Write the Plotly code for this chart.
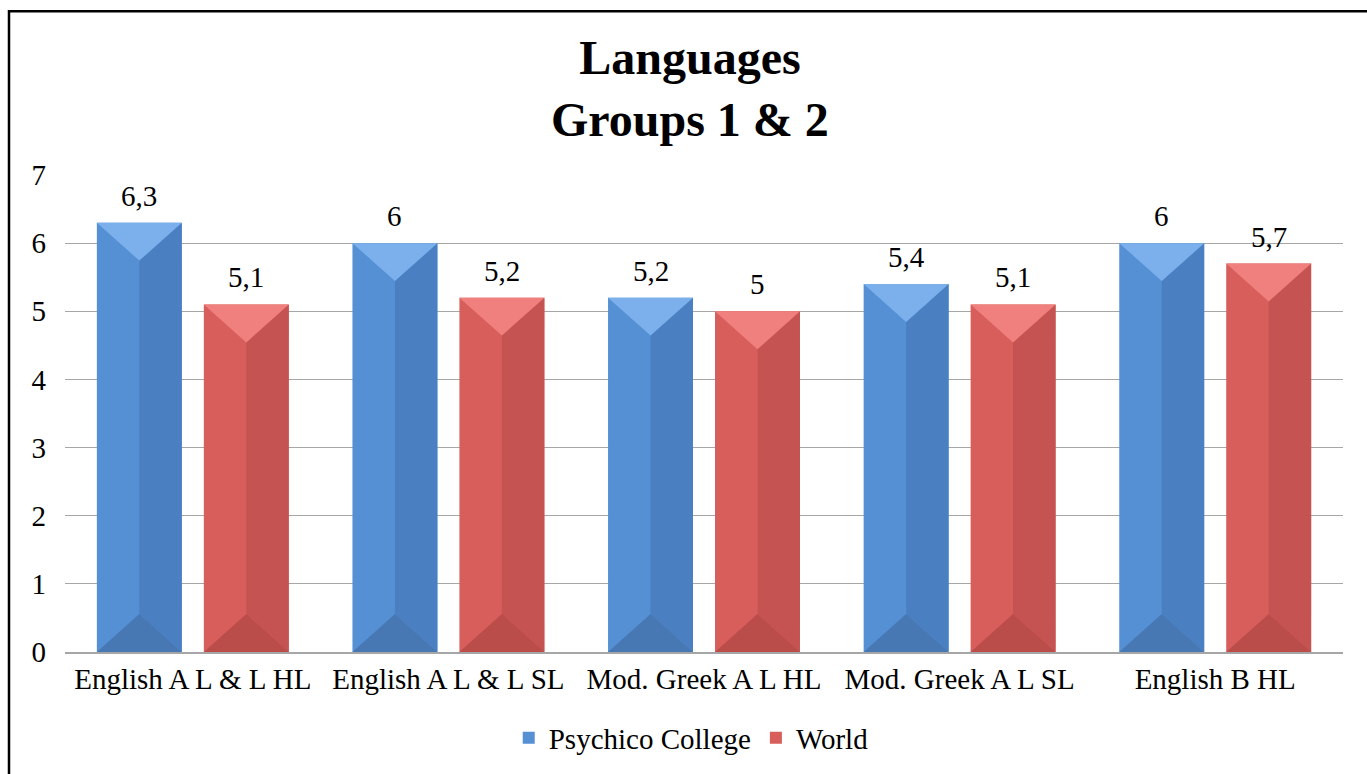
import plotly.graph_objects as go

categories = ["English A L & L HL", "English A L & L SL", "Mod. Greek A L HL",
              "Mod. Greek A L SL", "English B HL"]
psychico = [6.3, 6.0, 5.2, 5.4, 6.0]
world = [5.1, 5.2, 5.0, 5.1, 5.7]
series_names = ["Psychico College", "World"]

FONT = "Liberation Serif"
W, H = 1367, 774
ML, MR, MT, MB = 65, 24, 175, 121
BARGAP, GROUPGAP = 0.163, 0.206
FS = 29

def lab(v):
    s = ("%g" % v)
    return s.replace(".", ",")

fig = go.Figure()
fig.add_trace(go.Bar(name=series_names[0], x=categories, y=psychico,
                     marker=dict(color="#5490D3", line=dict(width=0))))
fig.add_trace(go.Bar(name=series_names[1], x=categories, y=world,
                     marker=dict(color="#D85E5C", line=dict(width=0))))

# bevel decoration and value labels computed from the data and bar geometry
slot = (1 - BARGAP) / 2
bw = slot * (1 - GROUPGAP)
plot_h = H - MT - MB
d = 38 / plot_h * 7  # bevel depth in data units
shapes = []
annotations = []
faces = [
    (psychico, -slot / 2, "#7BB0EC", "#4A80C2", "#4878B4"),
    (world, slot / 2, "#F0807D", "#C55351", "#BA4C4A"),
]
for vals, off, top_c, right_c, bot_c in faces:
    for i, v in enumerate(vals):
        c = i + off
        l, r = c - bw / 2, c + bw / 2
        dd = min(d, v / 2)
        shapes.append(dict(type="path", xref="x", yref="y", layer="above",
                           path=f"M {c},{v - dd} L {r},{v} L {r},0 L {c},{dd} Z",
                           fillcolor=right_c, line=dict(width=0)))
        shapes.append(dict(type="path", xref="x", yref="y", layer="above",
                           path=f"M {l},{v} L {r},{v} L {c},{v - dd} Z",
                           fillcolor=top_c, line=dict(width=0)))
        shapes.append(dict(type="path", xref="x", yref="y", layer="above",
                           path=f"M {l},0 L {r},0 L {c},{dd} Z",
                           fillcolor=bot_c, line=dict(width=0)))
        annotations.append(dict(x=c, y=v, xref="x", yref="y", text=lab(v),
                                showarrow=False, xanchor="center", yanchor="bottom",
                                yshift=9, font=dict(family=FONT, size=FS, color="black")))

plot_w = W - ML - MR
# outer chart border (left and top visible; right/bottom run off the image)
shapes.append(dict(type="rect", xref="paper", yref="paper", layer="above",
                   x0=(9 - ML) / plot_w, x1=(W + 20 - ML) / plot_w,
                   y0=-(H + 20 - (H - MB)) / plot_h, y1=((H - MB) - 11) / plot_h,
                   line=dict(color="black", width=2.5), fillcolor="rgba(0,0,0,0)"))

fig.update_layout(
    width=W, height=H,
    margin=dict(l=ML, r=MR, t=MT, b=MB),
    paper_bgcolor="white", plot_bgcolor="white",
    barmode="group", bargap=BARGAP, bargroupgap=GROUPGAP,
    font=dict(family=FONT, size=FS, color="black"),
    title=dict(text="<b>Languages<br>Groups 1 & 2</b>",
               font=dict(family=FONT, size=48, color="black"),
               x=0.489, xref="paper", xanchor="center",
               y=1 - 74 / H, yref="container", yanchor="middle"),
    xaxis=dict(showgrid=False, showline=True, linecolor="#A6A6A6", linewidth=1.5,
               ticks="", tickfont=dict(family=FONT, size=FS, color="black")),
    yaxis=dict(range=[0, 7], dtick=1, showgrid=True, gridcolor="#A6A6A6",
               gridwidth=1, zeroline=False, showline=False, ticks="",
               ticklabelstandoff=18,
               tickfont=dict(family=FONT, size=FS, color="black")),
    legend=dict(orientation="h", xanchor="center", x=0.49, yanchor="middle",
                y=-(738 - (H - MB)) / plot_h, font=dict(family=FONT, size=FS),
                itemwidth=30),
    showlegend=True,
    shapes=shapes,
    annotations=annotations,
)

fig.write_html("out.html", config={"displayModeBar": False},
               post_script="document.body.style.margin='0';document.body.style.overflow='hidden';")
